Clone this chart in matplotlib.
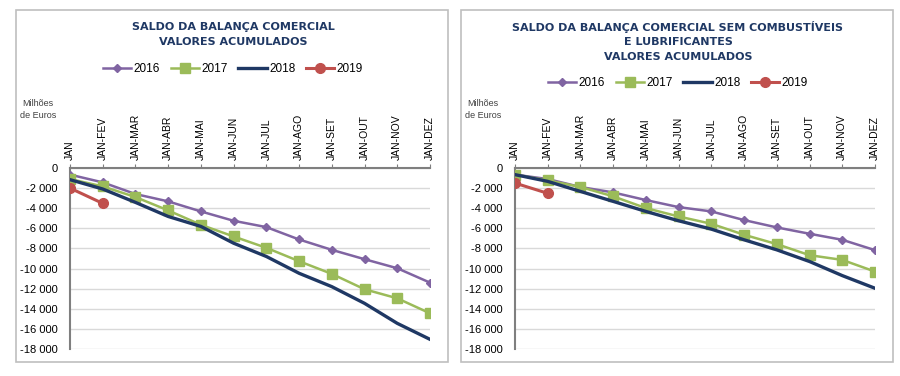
import matplotlib
matplotlib.use("Agg")
import matplotlib.pyplot as plt
from matplotlib.patches import Rectangle
from matplotlib.ticker import FuncFormatter, FixedLocator

months = ["JAN", "JAN-FEV", "JAN-MAR", "JAN-ABR", "JAN-MAI", "JAN-JUN",
          "JAN-JUL", "JAN-AGO", "JAN-SET", "JAN-OUT", "JAN-NOV", "JAN-DEZ"]
years = ["2016", "2017", "2018", "2019"]

# Left chart: total balance (million euros, cumulative)
left_2016 = [-660, -1430, -2590, -3320, -4320, -5250, -5880, -7110, -8140, -9070, -9970, -11400]
left_2017 = [-1100, -1830, -2890, -4220, -5650, -6810, -7940, -9270, -10530, -12060, -12960, -14450]
left_2018 = [-1160, -2090, -3420, -4820, -5810, -7480, -8800, -10470, -11800, -13460, -15450, -17040]
left_2019 = [-2000, -3520]

# Right chart: balance excluding fuels and lubricants
right_2016 = [-660, -1100, -1890, -2430, -3190, -3890, -4320, -5180, -5910, -6540, -7140, -8170]
right_2017 = [-660, -1230, -1890, -2820, -3990, -4820, -5550, -6640, -7570, -8670, -9140, -10300]
right_2018 = [-660, -1330, -2330, -3320, -4320, -5250, -6080, -7140, -8140, -9300, -10700, -11960]
right_2019 = [-1500, -2520]

yticks = list(range(0, -18001, -2000))

W, H = 900, 376
fig = plt.figure(figsize=(9, 3.76), dpi=100)

title_color = "#1F3864"
styles = [
    dict(color="#8064A2", marker="D", markersize=4.5, lw=1.8),
    dict(color="#9BBB59", marker="s", markersize=7, lw=1.8),
    dict(color="#1F3864", marker=None, lw=2.4),
    dict(color="#C0504D", marker="o", markersize=7, lw=2.2),
]

def fx(px):
    return px / W

def fy(py):
    return 1 - py / H

def fmt(v, pos):
    s = f"{abs(int(v)):,}".replace(",", " ")
    return ("-" if v < 0 else "") + s

def panel(box, axbox, title_lines, title_y, legend_y, series):
    bx0, by0, bx1, by1 = box
    fig.patches.append(Rectangle((fx(bx0), fy(by1)), fx(bx1 - bx0), (by1 - by0) / H,
                                 transform=fig.transFigure, fill=False,
                                 edgecolor="#BFBFBF", lw=1.2))
    ax0, ay0, ax1, ay1 = axbox
    ax = fig.add_axes([fx(ax0), fy(ay1), fx(ax1 - ax0), (ay1 - ay0) / H])
    x = list(range(len(months)))
    handles = []
    for yr, vals, st in zip(years, series, styles):
        h, = ax.plot(x[:len(vals)], vals, label=yr, zorder=3, **st)
        handles.append(h)
    ax.set_xlim(0, len(months) - 1)
    ax.set_ylim(-18000, 0)
    ax.yaxis.set_major_locator(FixedLocator(yticks))
    ax.yaxis.set_major_formatter(FuncFormatter(fmt))
    ax.grid(axis="y", color="#D9D9D9", lw=1.0)
    ax.set_axisbelow(True)
    for s in ["right", "bottom"]:
        ax.spines[s].set_visible(False)
    ax.spines["left"].set_color("#7F7F7F")
    ax.spines["left"].set_linewidth(1.5)
    ax.spines["top"].set_color("#7F7F7F")
    ax.spines["top"].set_linewidth(1.5)
    ax.xaxis.tick_top()
    ax.set_xticks(x)
    ax.set_xticklabels(months, rotation=90, fontsize=7.5, family="Liberation Sans")
    ax.tick_params(axis="x", length=3, color="#7F7F7F", pad=3)
    ax.tick_params(axis="y", length=0, labelsize=8, pad=9)
    for lab in ax.get_yticklabels():
        lab.set_family("Liberation Sans")
    ax.margins(x=0)
    cx = (ax0 + ax1) / 2 - 17
    for i, line in enumerate(title_lines):
        fig.text(fx(cx), fy(title_y + i * 15), line, ha="center", va="center",
                 fontsize=8, fontweight="bold", color=title_color, family="DejaVu Sans")
    fig.legend(handles=handles, loc="center", bbox_to_anchor=(fx(cx), fy(legend_y)),
               ncol=4, frameon=False, handlelength=2.4, columnspacing=0.9,
               handletextpad=0.2, prop=dict(family="Liberation Sans", size=8.5))
    fig.text(fx(ax0 - 32), fy(103), "Milhões", ha="center", va="center", fontsize=6.5,
             family="Liberation Sans", color="#404040")
    fig.text(fx(ax0 - 32), fy(116), "de Euros", ha="center", va="center", fontsize=6.5,
             family="Liberation Sans", color="#404040")
    return ax

panel((16, 10, 448, 362), (70, 168, 430, 349),
      ["SALDO DA BALANÇA COMERCIAL", "VALORES ACUMULADOS"], 27, 69,
      [left_2016, left_2017, left_2018, left_2019])
panel((461, 10, 893, 362), (515, 168, 875, 349),
      ["SALDO DA BALANÇA COMERCIAL SEM COMBUSTÍVEIS", "E LUBRIFICANTES", "VALORES ACUMULADOS"], 27, 83,
      [right_2016, right_2017, right_2018, right_2019])

fig.savefig("out.png", dpi=100)
